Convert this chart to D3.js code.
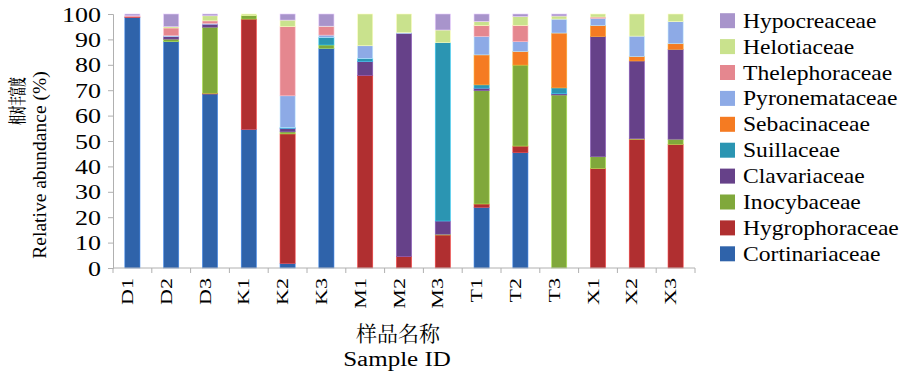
<!DOCTYPE html>
<html>
<head>
<meta charset="utf-8">
<script src="https://cdn.jsdelivr.net/npm/d3@7"></script>
<style>
  body { margin: 0; background: #fff; }
</style>
</head>
<body>
<div id="chart"></div>
<script>
// sample order on the x axis
var samples = ["D1","D2","D3","K1","K2","K3","M1","M2","M3","T1","T2","T3","X1","X2","X3"]
// families, stacked from bottom to top
var families = ["Cortinariaceae","Hygrophoraceae","Inocybaceae","Clavariaceae","Suillaceae",
                "Sebacinaceae","Pyronemataceae","Thelephoraceae","Helotiaceae","Hypocreaceae"]
var colors = ["#2F63AA","#B02F30","#80A83B","#664189","#2B95B2",
              "#F57B22","#8DAAE6","#E5878F","#C9E28D","#A894CB"]

// relative abundance (%) per family, same order as samples
var cortinariaceae = [98.6, 89.1, 68.5, 54.6, 1.8, 86.5, 0, 0, 0, 23.9, 45.4, 0, 0, 0, 0]
var hygrophoraceae = [0.3, 0, 0.3, 43.4, 51.0, 0, 75.8, 4.5, 13.0, 1.3, 2.6, 0, 39.2, 50.7, 48.7]
var inocybaceae    = [0, 1.0, 26.0, 1.5, 0.8, 1.3, 0, 0, 0.3, 44.6, 31.9, 68.1, 4.6, 0.2, 2.0]
var clavariaceae   = [0, 1.0, 1.2, 0, 1.4, 0, 5.5, 87.9, 5.2, 1.0, 0, 0.5, 47.3, 30.6, 35.4]
var suillaceae     = [0, 0, 0, 0, 0.3, 3.0, 1.2, 0, 70.2, 1.3, 0, 2.3, 0, 0, 0]
var sebacinaceae   = [0, 0, 0, 0, 0, 0, 0, 0, 0, 11.8, 5.3, 21.6, 4.3, 1.7, 2.2]
var pyronemataceae = [0, 0.4, 0.3, 0, 12.5, 0.9, 5.0, 0.3, 0, 7.3, 3.9, 5.5, 2.9, 8.1, 8.7]
var thelephoraceae = [0.4, 3.0, 1.0, 0, 27.2, 3.3, 0, 0, 0, 4.2, 6.4, 0, 0.5, 0, 0]
var helotiaceae    = [0, 0.5, 2.0, 0.5, 2.6, 0.2, 12.5, 7.3, 5.0, 1.7, 3.5, 1.2, 1.2, 8.7, 3.0]
var hypocreaceae   = [0.7, 5.0, 0.7, 0, 2.4, 4.8, 0, 0, 6.3, 2.9, 1.0, 0.8, 0, 0, 0]

var yTicks = [0,10,20,30,40,50,60,70,80,90,100]

var seriesValues = [cortinariaceae, hygrophoraceae, inocybaceae, clavariaceae, suillaceae,
                    sebacinaceae, pyronemataceae, thelephoraceae, helotiaceae, hypocreaceae]

var SERIF = "Liberation Serif"
var CJK = "Noto Serif CJK SC"

// table for d3.stack
var table = samples.map(function(s, i){
    var row = {sample: s}
    families.forEach(function(f, j){ row[f] = seriesValues[j][i] })
    return row
})

var svg = d3.select("#chart")
  .append("svg")
  .attr("width", 900)
  .attr("height", 376)

var x = d3.scaleBand()
    .domain(samples)
    .range([113, 695])
    .paddingInner(0.61)
    .paddingOuter(0.305)
var y = d3.scaleLinear()
    .domain([0, 100])
    .range([268, 14])
var color = d3.scaleOrdinal().domain(families).range(colors)

var stacked = d3.stack().keys(families)(table)

// bars
svg.append("g")
  .selectAll("g")
  .data(stacked)
  .enter()
  .append("g")
  .attr("fill", function(d){ return color(d.key) })
  .attr("stroke", function(d){ return d3.color(color(d.key)).brighter(0.9) })
  .attr("stroke-width", 0.6)
  .selectAll("rect")
  .data(function(d){ return d })
  .enter()
  .append("rect")
  .attr("x", function(d){ return x(d.data.sample) })
  .attr("width", x.bandwidth())
  .attr("y", function(d){ return y(d[1]) })
  .attr("height", function(d){ return Math.max(0, y(d[0]) - y(d[1])) })

// y axis
var yAxis = svg.append("g")
  .attr("transform", "translate(113,0)")
  .call(d3.axisLeft(y).tickValues(yTicks).tickSize(5).tickPadding(0))
yAxis.attr("font-family", null).attr("font-size", null)
yAxis.select(".domain").attr("stroke", "#b0b0b0")
yAxis.selectAll(".tick line").attr("stroke", "#b0b0b0")
yAxis.selectAll(".tick text")
  .attr("x", 0).attr("dy", 0)
  .attr("fill", "#000")
  .attr("font-family", SERIF)
  .attr("font-size", 20)
  .attr("transform", "translate(-12,7) scale(1.3,1)")

// x axis (ticks sit between the categories)
var xAxis = svg.append("g")
  .attr("transform", "translate(0,268)")
xAxis.append("line")
  .attr("x1", x.range()[0]).attr("x2", x.range()[1])
  .attr("stroke", "#b0b0b0")
xAxis.selectAll(".sep")
  .data(d3.range(samples.length + 1))
  .enter()
  .append("line")
  .attr("x1", function(i){ return x.range()[0] + i * x.step() })
  .attr("x2", function(i){ return x.range()[0] + i * x.step() })
  .attr("y1", 0).attr("y2", 5)
  .attr("stroke", "#b0b0b0")
xAxis.selectAll(".lab")
  .data(samples)
  .enter()
  .append("text")
  .attr("text-anchor", "end")
  .attr("font-family", SERIF)
  .attr("font-size", 17)
  .attr("transform", function(d){
      return "translate(" + (x(d) + x.bandwidth() / 2 + 0.5) + ",10) rotate(-90) scale(1.3,1)"
  })
  .text(function(d){ return d })

// axis titles
svg.append("text")
  .attr("text-anchor", "middle")
  .attr("font-family", CJK)
  .attr("font-size", 21)
  .attr("transform", "translate(398,341)")
  .text("样品名称")
svg.append("text")
  .attr("text-anchor", "middle")
  .attr("font-family", SERIF)
  .attr("font-size", 20)
  .attr("transform", "translate(397,366) scale(1.25,1)")
  .text("Sample ID")

svg.append("text")
  .attr("text-anchor", "middle")
  .attr("font-family", CJK)
  .attr("font-size", 18)
  .attr("font-weight", "bold")
  .attr("transform", "translate(24,101) rotate(-90) scale(0.53,1)")
  .text("相对丰富度")
svg.append("text")
  .attr("text-anchor", "middle")
  .attr("font-family", SERIF)
  .attr("font-size", 19.5)
  .attr("transform", "translate(46,165) rotate(-90)")
  .text("Relative abundance (%)")

// legend, top entry is the last family
var legend = svg.append("g")
  .selectAll("g")
  .data(families.slice().reverse())
  .enter()
  .append("g")
  .attr("transform", function(d, i){ return "translate(720," + (20.7 + i * 25.9) + ")" })
legend.append("rect")
  .attr("x", 0).attr("y", -7.5)
  .attr("width", 15).attr("height", 15)
  .attr("fill", function(d){ return color(d) })
legend.append("text")
  .attr("font-family", SERIF)
  .attr("font-size", 20)
  .attr("transform", "translate(23,7) scale(1.18,1)")
  .text(function(d){ return d })
</script>
</body>
</html>
